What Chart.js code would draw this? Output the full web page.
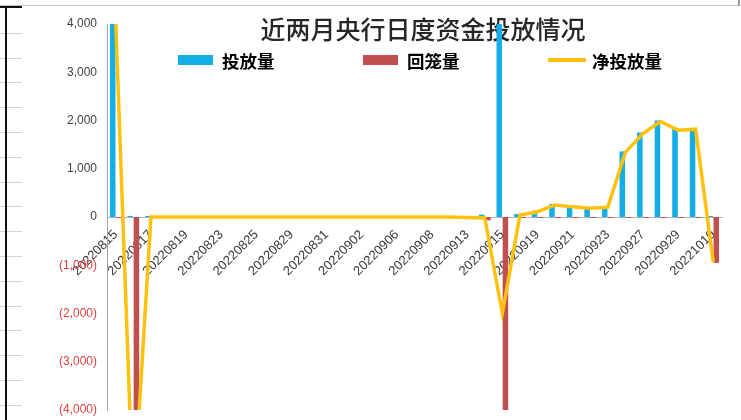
<!DOCTYPE html>
<html>
<head>
<meta charset="utf-8">
<script src="https://cdn.jsdelivr.net/npm/chart.js@4.4.0/dist/chart.umd.min.js"></script>
<style>
    html, body { margin: 0; padding: 0; background: #fff; }
    #wrap { position: relative; width: 741px; height: 420px; overflow: hidden; background: #fff; }
    #chartCanvas { position: absolute; left: 0; top: 0; }
    /* spreadsheet frame around the chart */
    .sheetTop { position: absolute; left: 0; top: 5px; width: 739px; height: 1px; background: #c4c4c4; }
    .sheetCorner { position: absolute; left: 738px; top: 0; width: 2px; height: 6px; background: #9a9a9a; }
    .rowLines { position: absolute; left: 0; top: 9px; width: 22px; height: 411px;
        background: repeating-linear-gradient(to bottom, transparent 0 23.8px, #d2d2d2 23.8px 24.8px); }
    .sheetBlackTop { position: absolute; left: 0; top: 6px; width: 22px; height: 2px; background: #111; }
    .sheetBlackLeft { position: absolute; left: 5px; top: 6px; width: 2px; height: 414px; background: #111; }
</style>
</head>
<body>
<div id="wrap">
    <div class="sheetTop"></div>
    <div class="sheetCorner"></div>
    <div class="rowLines"></div>
    <div class="sheetBlackTop"></div>
    <div class="sheetBlackLeft"></div>
    <canvas id="chartCanvas" width="741" height="420"></canvas>
</div>
<script>
    // Trading days shown on the chart (every other one gets a label)
    const dates = [
        '20220815', '20220816', '20220817', '20220818', '20220819',
        '20220822', '20220823', '20220824', '20220825', '20220826',
        '20220829', '20220830', '20220831', '20220901', '20220902',
        '20220905', '20220906', '20220907', '20220908', '20220909',
        '20220913', '20220914', '20220915', '20220916', '20220919',
        '20220920', '20220921', '20220922', '20220923', '20220926',
        '20220927', '20220928', '20220929', '20220930', '20221010'
    ];

    // 投放量 (100m yuan)
    const injection = [
        4020, 20, 20, 20, 20,
        20, 20, 20, 20, 20,
        20, 20, 20, 20, 20,
        20, 20, 20, 20, 20,
        20, 50, 4020, 60, 130,
        270, 230, 200, 220, 1360,
        1750, 2000, 1820, 1840, 20
    ];

    // 回笼量 (shown as negative)
    const withdrawal = [
        -20, -6020, -20, -20, -20,
        -20, -20, -20, -20, -20,
        -20, -20, -20, -20, -20,
        -20, -20, -20, -20, -20,
        -30, -70, -6020, -20, -20,
        -20, -20, -20, -20, -20,
        -20, -20, -20, -20, -950
    ];

    // 净投放量
    const netInjection = [
        4000, -6000, 0, 0, 0,
        0, 0, 0, 0, 0,
        0, 0, 0, 0, 0,
        0, 0, 0, 0, 0,
        -10, -20, -2000, 40, 110,
        250, 210, 180, 200, 1340,
        1730, 1980, 1800, 1820, -930
    ];

    const yTicks = [-4000, -3000, -2000, -1000, 0, 1000, 2000, 3000, 4000];
    const chartTitle = '近两月央行日度资金投放情况';

    // Format numbers like the spreadsheet: 1,000 and (1,000) for negatives
    function formatTick(v) {
        const s = Math.abs(v).toLocaleString('en-US');
        return v < 0 ? '(' + s + ')' : s;
    }

    // Title and legend sit inside the plot area, under the bars
    const headerPlugin = {
        id: 'header',
        beforeDatasetsDraw(chart) {
            const ctx = chart.ctx;
            ctx.save();
            ctx.textBaseline = 'middle';
            ctx.textAlign = 'center';
            ctx.fillStyle = '#262626';
            ctx.font = '500 25px "Noto Sans CJK SC"';
            ctx.fillText(chartTitle, 423, 29);

            ctx.textAlign = 'left';
            ctx.font = 'bold 17.5px "Noto Sans CJK SC"';
            const legendY = 60;
            chart.data.datasets.forEach((ds, i) => {
                const x = 178 + i * 185;
                if (ds.type === 'line') {
                    ctx.strokeStyle = ds.borderColor;
                    ctx.lineWidth = 4;
                    ctx.beginPath();
                    ctx.moveTo(x, legendY);
                    ctx.lineTo(x + 38, legendY);
                    ctx.stroke();
                } else {
                    ctx.fillStyle = ds.backgroundColor;
                    ctx.fillRect(x, legendY - 5, 35, 10);
                }
                ctx.fillStyle = '#000';
                ctx.fillText(ds.label, x + 44, legendY + 1);
            });
            ctx.restore();
        }
    };

    const ctx = document.getElementById('chartCanvas');
    Chart.defaults.font.family = '"Liberation Sans", Arial, sans-serif';

    window.myChart = new Chart(ctx, {
        type: 'bar',
        data: {
            labels: dates,
            datasets: [{
                label: '投放量',
                data: injection,
                backgroundColor: '#14aee6',
                categoryPercentage: 0.7,
                barPercentage: 0.9,
                order: 2
            }, {
                label: '回笼量',
                data: withdrawal,
                backgroundColor: '#c0504d',
                categoryPercentage: 0.7,
                barPercentage: 0.9,
                order: 2
            }, {
                type: 'line',
                label: '净投放量',
                data: netInjection,
                borderColor: '#fdc10e',
                borderWidth: 3.5,
                pointRadius: 0,
                tension: 0,
                order: 1
            }]
        },
        options: {
            responsive: false,
            animation: false,
            layout: { padding: { left: 0, right: 19, top: 24, bottom: 10 } },
            plugins: {
                legend: { display: false },
                tooltip: { enabled: false }
            },
            scales: {
                x: {
                    position: { y: 0 },
                    // the axis sits at zero, so it should not take room at the bottom
                    afterFit: (scale) => { scale.height = 0; },
                    grid: { display: false, drawTicks: false },
                    border: { color: '#b4b4b4', width: 1 },
                    ticks: {
                        autoSkip: false,
                        maxRotation: 45,
                        minRotation: 45,
                        padding: 10,
                        color: '#3a3a3a',
                        font: { size: 13 },
                        callback: (val, i) => (i % 2 === 0 ? dates[i] : '')
                    }
                },
                y: {
                    min: -4000,
                    max: 4000,
                    afterBuildTicks: (scale) => {
                        scale.ticks = yTicks.map(v => ({ value: v }));
                    },
                    afterFit: (scale) => {
                        scale.width = 107;
                        // keep the plot area edges where the layout padding puts them
                        scale.paddingTop = 0;
                        scale.paddingBottom = 0;
                    },
                    grid: { display: false, drawTicks: false },
                    border: { color: '#a6a6a6', width: 1 },
                    ticks: {
                        padding: 10,
                        font: { size: 12 },
                        color: (c) => (c.tick && c.tick.value < 0 ? '#e0403a' : '#404040'),
                        callback: (v) => formatTick(v)
                    }
                }
            }
        },
        plugins: [headerPlugin]
    });
</script>
</body>
</html>
